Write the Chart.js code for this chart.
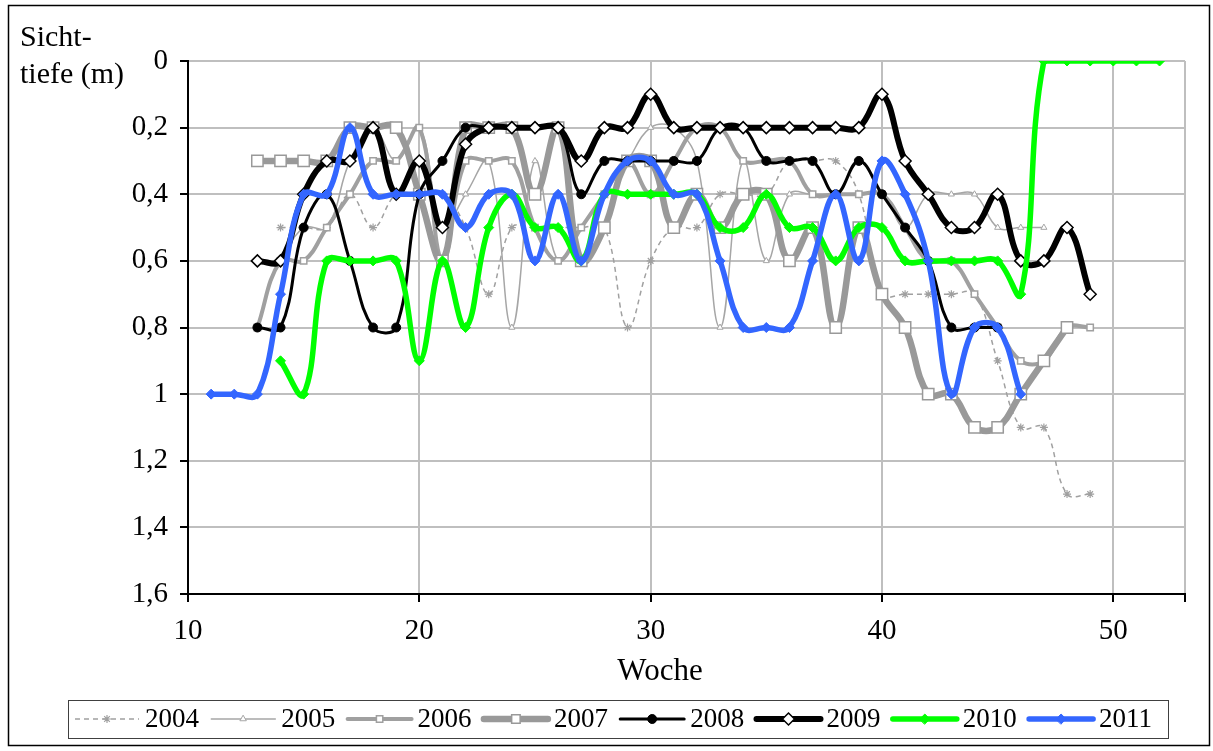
<!DOCTYPE html>
<html>
<head>
<meta charset="utf-8">
<script src="https://cdn.jsdelivr.net/npm/chart.js@4.4.1/dist/chart.umd.min.js"></script>
<style>
  body { margin: 0; background: #fff; }
</style>
</head>
<body>
<canvas id="myChart" width="1213" height="751"></canvas>
<script>
// Sichttiefe (m) per Woche, one array per year, first value = start week
let years = ["2004", "2005", "2006", "2007", "2008", "2009", "2010", "2011"];
let xTicks = [10, 20, 30, 40, 50];

let start2004 = 14;
let depth2004 = [0.5, 0.5, 0.5, 0.4, 0.5, 0.4, 0.4, 0.4, 0.5, 0.7, 0.5, 0.5, 0.5, 0.5, 0.5, 0.8, 0.6, 0.5, 0.5,
    0.4, 0.4, 0.4, 0.3, 0.3, 0.3, 0.4, 0.7, 0.7, 0.7, 0.7, 0.7, 0.9, 1.1, 1.1, 1.3, 1.3];

let start2005 = 14;
let depth2005 = [0.6, 0.5, 0.5, 0.3, 0.2, 0.3, 0.2, 0.5, 0.4, 0.3, 0.8, 0.3, 0.6, 0.5, 0.4, 0.3, 0.2, 0.2, 0.3,
    0.8, 0.3, 0.6, 0.4, 0.4, 0.4, 0.4, 0.4, 0.5, 0.4, 0.4, 0.4, 0.5, 0.5, 0.5];

let start2006 = 13;
let depth2006 = [0.8, 0.6, 0.6, 0.5, 0.4, 0.3, 0.3, 0.2, 0.6, 0.3, 0.3, 0.3, 0.5, 0.6, 0.5, 0.4, 0.3, 0.4, 0.3,
    0.2, 0.2, 0.3, 0.3, 0.3, 0.4, 0.4, 0.4, 0.4, 0.5, 0.6, 0.6, 0.7, 0.8, 0.9, 0.9, 0.8, 0.8];

let start2007 = 13;
let depth2007 = [0.3, 0.3, 0.3, 0.3, 0.2, 0.2, 0.2, 0.4, 0.6, 0.2, 0.2, 0.2, 0.4, 0.2, 0.6, 0.5, 0.3, 0.3, 0.5,
    0.4, 0.5, 0.4, 0.4, 0.6, 0.5, 0.8, 0.5, 0.7, 0.8, 1.0, 1.0, 1.1, 1.1, 1.0, 0.9, 0.8];

let start2008 = 13;
let depth2008 = [0.8, 0.8, 0.5, 0.4, 0.6, 0.8, 0.8, 0.4, 0.3, 0.2, 0.2, 0.2, 0.2, 0.2, 0.4, 0.3, 0.3, 0.3, 0.3,
    0.3, 0.2, 0.2, 0.3, 0.3, 0.3, 0.4, 0.3, 0.4, 0.5, 0.6, 0.8, 0.8, 0.8];

let start2009 = 13;
let depth2009 = [0.6, 0.6, 0.4, 0.3, 0.3, 0.2, 0.4, 0.3, 0.5, 0.25, 0.2, 0.2, 0.2, 0.2, 0.3, 0.2, 0.2, 0.1, 0.2,
    0.2, 0.2, 0.2, 0.2, 0.2, 0.2, 0.2, 0.2, 0.1, 0.3, 0.4, 0.5, 0.5, 0.4, 0.6, 0.6, 0.5, 0.7];

let start2010 = 14;
let depth2010 = [0.9, 1.0, 0.6, 0.6, 0.6, 0.6, 0.9, 0.6, 0.8, 0.5, 0.4, 0.5, 0.5, 0.6, 0.4, 0.4, 0.4, 0.4, 0.4,
    0.5, 0.5, 0.4, 0.5, 0.5, 0.6, 0.5, 0.5, 0.6, 0.6, 0.6, 0.6, 0.6, 0.7, 0, 0, 0, 0, 0, 0];

let start2011 = 11;
let depth2011 = [1.0, 1.0, 1.0, 0.7, 0.4, 0.4, 0.2, 0.4, 0.4, 0.4, 0.4, 0.5, 0.4, 0.4, 0.6, 0.4, 0.6, 0.4, 0.3,
    0.3, 0.4, 0.4, 0.6, 0.8, 0.8, 0.8, 0.6, 0.4, 0.6, 0.3, 0.4, 0.6, 1.0, 0.8, 0.8, 1.0];

function toPoints(start, arr) {
    return arr.map(function (v, i) { return { x: start + i, y: v }; });
}

function fmtComma(v) {
    return String(Math.round(v * 10) / 10).replace('.', ',');
}

const serif = "'Liberation Serif', 'Times New Roman', serif";

let styles = [
    { color: '#a0a0a0', width: 1.5, dash: [5, 4], point: 'star', radius: 4, fill: '#a0a0a0', pw: 1.2 },
    { color: '#a6a6a6', width: 1.5, dash: [], point: 'triangle', radius: 3.5, fill: '#ffffff', pw: 1 },
    { color: '#a0a0a0', width: 4, dash: [], point: 'rect', radius: 4.5, fill: '#ffffff', pw: 1.5 },
    { color: '#999999', width: 6.5, dash: [], point: 'rect', radius: 8, fill: '#ffffff', pw: 1.5 },
    { color: '#000000', width: 3, dash: [], point: 'circle', radius: 4.5, fill: '#000000', pw: 1 },
    { color: '#000000', width: 6, dash: [], point: 'rectRot', radius: 6, fill: '#ffffff', pw: 1.5 },
    { color: '#00ff00', width: 5.5, dash: [], point: 'rectRot', radius: 5, fill: '#00ff00', pw: 1 },
    { color: '#3366ff', width: 5.5, dash: [], point: 'rectRot', radius: 5, fill: '#3366ff', pw: 1 }
];

let seriesData = [
    toPoints(start2004, depth2004), toPoints(start2005, depth2005),
    toPoints(start2006, depth2006), toPoints(start2007, depth2007),
    toPoints(start2008, depth2008), toPoints(start2009, depth2009),
    toPoints(start2010, depth2010), toPoints(start2011, depth2011)
];

let datasets = years.map(function (y, i) {
    let s = styles[i];
    return {
        label: y,
        data: seriesData[i],
        borderColor: s.color,
        borderWidth: s.width,
        borderDash: s.dash,
        tension: 0.4,
        pointStyle: s.point,
        pointRadius: s.radius,
        pointBackgroundColor: s.fill,
        pointBorderColor: s.color,
        pointBorderWidth: s.pw,
        order: years.length - i   // later years on top
    };
});

// titles, frame and the legend row
const decorations = {
    id: 'decorations',
    afterDraw(chart) {
        const ctx = chart.ctx;
        ctx.save();
        ctx.strokeStyle = '#000';
        ctx.lineWidth = 1.5;
        ctx.strokeRect(8.5, 5.5, 1201, 740);

        ctx.fillStyle = '#000';
        ctx.font = "30px " + serif;
        ctx.textAlign = 'left';
        ctx.textBaseline = 'middle';
        ctx.fillText('Sicht-', 20, 38);
        ctx.fillText('tiefe (m)', 20, 75);
        ctx.font = "31px " + serif;
        ctx.textAlign = 'center';
        ctx.fillText('Woche', 660, 672);

        // legend
        ctx.strokeStyle = '#404040';
        ctx.lineWidth = 1;
        ctx.strokeRect(68.5, 700.5, 1100, 38);
        ctx.font = "27px " + serif;
        ctx.textAlign = 'left';
        let ly = 719;
        years.forEach(function (y, i) {
            let s = styles[i];
            let x0 = 75 + i * 136.3;
            ctx.beginPath();
            ctx.strokeStyle = s.color;
            ctx.lineWidth = s.width;
            ctx.lineCap = s.dash.length ? 'butt' : 'round';
            ctx.setLineDash(s.dash);
            ctx.moveTo(x0, ly);
            ctx.lineTo(x0 + 64, ly);
            ctx.stroke();
            ctx.setLineDash([]);
            ctx.fillStyle = s.fill;
            ctx.strokeStyle = s.color;
            ctx.lineWidth = s.pw;
            Chart.helpers.drawPoint(ctx, {
                pointStyle: s.point, radius: Math.min(s.radius, 6), rotation: 0, borderWidth: s.pw
            }, x0 + 32, ly);
            ctx.fillStyle = '#000';
            ctx.fillText(y, x0 + 70, ly + 1);
        });
        ctx.restore();
    }
};

var ctx = document.getElementById('myChart').getContext('2d');
var chart = new Chart(ctx, {
    type: 'line',
    data: { datasets: datasets },
    options: {
        responsive: false,
        animation: false,
        devicePixelRatio: 1,
        layout: { padding: { left: 8, right: 28, top: 61, bottom: 67 } },
        plugins: { legend: { display: false }, tooltip: { enabled: false } },
        scales: {
            x: {
                type: 'linear',
                min: 10,
                max: 53.1,
                afterFit: function (scale) { scale.height = 90; },
                afterBuildTicks: function (scale) {
                    scale.ticks = xTicks.map(function (v) { return { value: v }; }).concat([{ value: 53.1 }]);
                },
                ticks: {
                    color: '#000',
                    font: { family: serif, size: 29 },
                    padding: 12,
                    maxRotation: 0,
                    callback: function (v) { return xTicks.indexOf(v) >= 0 ? String(v) : ''; }
                },
                grid: { color: '#bfbfbf', lineWidth: 2, tickLength: 8, tickColor: '#000' },
                border: { color: '#000', width: 2 }
            },
            y: {
                type: 'linear',
                reverse: true,
                min: 0,
                max: 1.6,
                afterFit: function (scale) { scale.width = 180; },
                ticks: {
                    stepSize: 0.2,
                    color: '#000',
                    font: { family: serif, size: 29 },
                    padding: 12,
                    callback: function (v) { return fmtComma(v); }
                },
                grid: { color: '#bfbfbf', lineWidth: 2, tickLength: 8, tickColor: '#000' },
                border: { color: '#000', width: 2 }
            }
        }
    },
    plugins: [decorations]
});
</script>
</body>
</html>
